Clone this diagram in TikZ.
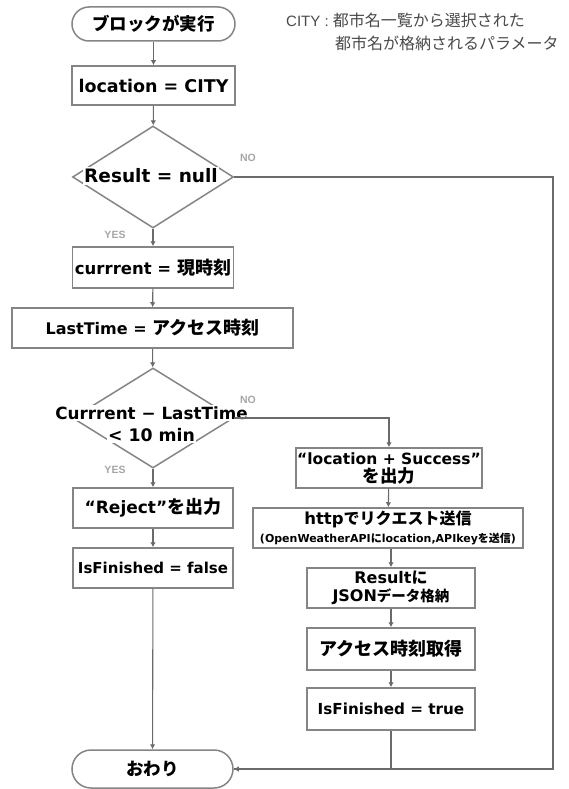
\documentclass[tikz,border=0pt]{standalone}
\usepackage{fontspec}
\usetikzlibrary{arrows.meta,shapes.geometric}
\newfontfamily\jp{Noto Sans CJK JP}
\newfontfamily\lt{DejaVu Sans}
\newfontfamily\lab{Liberation Sans}
% Latin run inside a Japanese label: \La{size}{text}
\newcommand\La[2]{{\lt\bfseries\fontsize{#1}{#1}\selectfont #2}}
% Japanese run at a given size: \Ja{size}{text}
\newcommand\Ja[2]{{\jp\bfseries\fontsize{#1}{#1}\selectfont #2}}
\definecolor{edge}{HTML}{858585}
\definecolor{wire}{HTML}{6A6A6A}
\definecolor{note}{HTML}{4A4A4A}
\tikzset{
  base/.style={draw=edge, line width=1.5pt, align=center, inner sep=1pt,
    font=\jp\bfseries\fontsize{18}{21}\selectfont, text=black},
  procbox/.style={base, rectangle},
  termbox/.style={base, rounded corners=17pt},
  decbox/.style={draw=edge, line width=1.5pt, diamond, inner sep=0pt, minimum width=161pt, minimum height=102pt},
  dectext/.style={fill=white, inner sep=1.5pt},
  wirearr/.style={draw=wire, line width=1.1pt, -{Latex[length=5pt,width=5.5pt]}},
  wireln/.style={draw=wire, line width=1.1pt},
  yn/.style={font=\lab\bfseries\fontsize{10.5}{11}\selectfont, text=gray!70},
  notetext/.style={font=\jp\fontsize{16}{22}\selectfont, text=note, align=left, inner sep=0pt}
}
\begin{document}
\begin{tikzpicture}[x=1pt,y=-1pt]
\useasboundingbox[fill=white] (0,0) rectangle (568,789);

% main column
\node[termbox, minimum width=163pt, minimum height=34pt] (start) at (153.5,24) {\Ja{17.5}{ブロックが実行}};
\node[procbox, minimum width=163pt, minimum height=39pt] (loc) at (153.5,85.5) {\La{17.5}{location = CITY}};
\node[decbox] (d1) at (153,177) {};
\node[dectext] (d1t) at (151,176) {\La{18.5}{Result = null}};
\node[procbox, minimum width=161pt, minimum height=41pt] (cur) at (153,267.5) {\La{16.5}{currrent = }\Ja{18}{現時刻}};
\node[procbox, minimum width=281pt, minimum height=40pt] (last) at (152.5,328) {\La{16}{LastTime = }\Ja{18}{アクセス時刻}};
\node[decbox, minimum height=100pt] (d2) at (153,418) {};
\node[dectext] (d2a) at (151.5,413) {\La{16.8}{Currrent − LastTime}};
\node[dectext] (d2b) at (151.5,435) {\La{17.3}{< 10 min}};
\node[procbox, minimum width=160pt, minimum height=40pt] (rej) at (153,508) {\La{17}{“Reject”}\Ja{18}{を出力}};
\node[procbox, minimum width=160pt, minimum height=40pt] (fal) at (153,568) {\La{15}{IsFinished = false}};
\node[termbox, minimum width=161pt, minimum height=38pt, rounded corners=19pt] (fin) at (152.5,769) {\Ja{17.5}{おわり}};

% success branch
\node[procbox, minimum width=160pt, minimum height=40pt] (suc) at (389,468)
  {\La{15.5}{“location + Success”}\\[-3pt]\Ja{17.5}{を出力}};
\node[procbox, minimum width=270pt, minimum height=40pt] (http) at (388,528)
  {\La{16.5}{http}\Ja{16}{でリクエスト送信}\\[-3pt]\La{11}{(OpenWeatherAPI}\Ja{11}{に}\La{11}{location,APIkey}\Ja{11}{を送信}\La{11}{)}};
\node[procbox, minimum width=168pt, minimum height=40pt] (res) at (391,588)
  {\La{16}{Result}\Ja{16}{に}\\[-3pt]\La{16}{JSON}\Ja{14.5}{データ格納}};
\node[procbox, minimum width=168pt, minimum height=42pt] (acc) at (391,649) {\Ja{18}{アクセス時刻取得}};
\node[procbox, minimum width=168pt, minimum height=42pt] (tru) at (391,709) {\La{15.2}{IsFinished = true}};

% parameter note
\node[notetext, anchor=west] (note) at (286,20) {\lab\fontsize{15}{16}\selectfont CITY : \jp\fontsize{16}{16}\selectfont 都市名一覧から選択された};
\node[notetext, anchor=west] (note2) at (335,43) {都市名が格納されるパラメータ};

% branch labels
\node[yn] (no1) at (248,158) {NO};
\node[yn] (yes1) at (115,235) {YES};
\node[yn] (no2) at (248,400) {NO};
\node[yn] (yes2) at (115,470) {YES};

% connectors
\coordinate (rc) at (553,769);
\coordinate (sc) at (389,418);
\draw[wirearr] (start) -- (loc);
\draw[wirearr] (loc) -- (d1);
\draw[wirearr] (d1) -- (cur);
\draw[wirearr] (cur) -- (last);
\draw[wirearr] (last) -- (d2);
\draw[wirearr] (d2) -- (rej);
\draw[wirearr] (rej) -- (fal);
\draw[wirearr] (fal) -- (fin);
\draw[wireln] (d1.east) -| (rc) -- (fin.east);
\draw[wireln] (d2.east) -- (d2a.east |- d2.east);
\draw[wirearr] (d2a.east |- d2.east) -- (sc) -- (suc.north);
\draw[wirearr] (suc) -- (http);
\draw[wirearr] (http.south -| res.north) -- (res);
\draw[wirearr] (res) -- (acc);
\draw[wirearr] (acc) -- (tru);
\draw[wirearr] (tru.south) |- (fin.east);
\end{tikzpicture}
\end{document}
